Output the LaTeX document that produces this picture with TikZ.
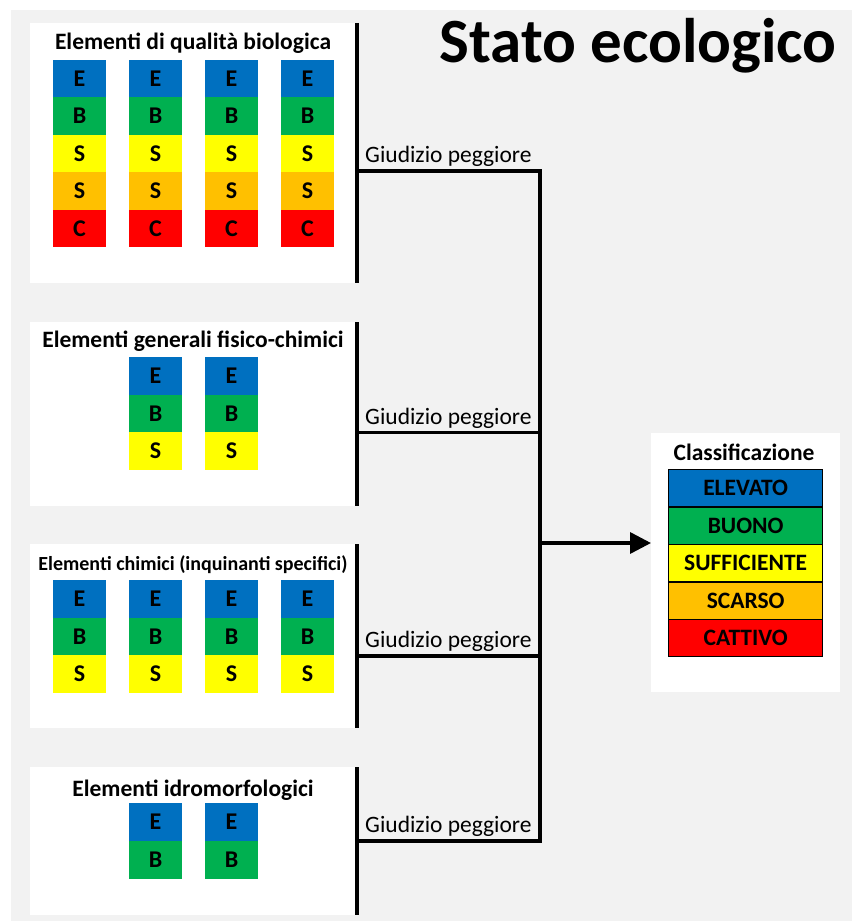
\documentclass[tikz,border=0pt]{standalone}
\usepackage{fontspec}
\setmainfont{Carlito}
\usetikzlibrary{arrows.meta}
\definecolor{qE}{HTML}{0070C0}
\definecolor{qB}{HTML}{00B050}
\definecolor{qS}{HTML}{FFFF00}
\definecolor{qO}{HTML}{FFC000}
\definecolor{qC}{HTML}{FF0000}
\definecolor{bgray}{HTML}{F2F2F2}
\begin{document}
\begin{tikzpicture}[x=1pt,y=-1pt,
  cell/.style={anchor=north west, minimum width=53pt, minimum height=37.6pt, inner sep=0pt, outer sep=0pt, font=\bfseries\fontsize{24}{24}\selectfont},
  panel/.style={fill=white, anchor=north west, inner sep=0pt, outer sep=0pt},
  bar/.style={line width=3.5pt},
  ptitle/.style={font=\bfseries\fontsize{23.5}{23.5}\selectfont, anchor=base, inner sep=0pt},
  judge/.style={font=\fontsize{23.5}{23.5}\selectfont, anchor=base west, inner sep=0pt},
  clbox/.style={anchor=north west, minimum width=154pt, minimum height=37.4pt, inner sep=0pt, draw=black, line width=1.3pt, font=\bfseries\fontsize{23.5}{23.5}\selectfont},
]
\useasboundingbox (0,0) rectangle (852,923);
\fill[bgray] (11,10) rectangle (852,921);

% title
\node[font=\bfseries\fontsize{63}{63}\selectfont, anchor=base, inner sep=0pt] (title) at (638,63) {Stato ecologico};

% panels
\node[panel, minimum width=327pt, minimum height=260pt] (p1) at (30,23) {};
\node[panel, minimum width=327pt, minimum height=184pt] (p2) at (30,322) {};
\node[panel, minimum width=327pt, minimum height=184pt] (p3) at (30,544) {};
\node[panel, minimum width=327pt, minimum height=148pt] (p4) at (30,767) {};
\foreach \p in {p1,p2,p3,p4} \draw[bar] (\p.north east) -- (\p.south east);

\node[ptitle] (t1) at (193,50) {Elementi di qualità biologica};
\node[ptitle] (t2) at (193,347) {Elementi generali fisico-chimici};
\node[ptitle, font=\bfseries\fontsize{20}{20}\selectfont] (t3) at (193,570) {Elementi chimici (inquinanti specifici)};
\node[ptitle] (t4) at (193,796) {Elementi idromorfologici};

% panel 1 cells
\foreach \c [count=\i] in {53,129,205,281} {
  \foreach \col/\t [count=\j from 0] in {qE/E,qB/B,qS/S,qO/S,qC/C} {
    \node[cell, fill=\col] (a\i\j) at (\c,{60+\j*37.4}) {\t};
  }
}
% panel 2 cells
\foreach \c [count=\i] in {129,205} {
  \foreach \col/\t [count=\j from 0] in {qE/E,qB/B,qS/S} {
    \node[cell, fill=\col] (b\i\j) at (\c,{357+\j*37.7}) {\t};
  }
}
% panel 3 cells
\foreach \c [count=\i] in {53,129,205,281} {
  \foreach \col/\t [count=\j from 0] in {qE/E,qB/B,qS/S} {
    \node[cell, fill=\col] (d\i\j) at (\c,{580+\j*37.7}) {\t};
  }
}
% panel 4 cells
\foreach \c [count=\i] in {129,205} {
  \foreach \col/\t [count=\j from 0] in {qE/E,qB/B} {
    \node[cell, fill=\col] (e\i\j) at (\c,{803+\j*38}) {\t};
  }
}

% classification
\node[panel, minimum width=189pt, minimum height=259pt] (cls) at (651,433) {};
\node[ptitle] (clt) at (744,460) {Classificazione};
\foreach \col/\t [count=\j from 0] in {qE/ELEVATO,qB/BUONO,qS/SUFFICIENTE,qO/SCARSO,qC/CATTIVO} {
  \node[clbox, fill=\col] (k\j) at (668,{469+\j*37.4}) {\t};
}

% connectors
\coordinate (j1) at (540,171);
\coordinate (j2) at (540,432.5);
\coordinate (j3) at (540,656);
\coordinate (j4) at (540,841);
\coordinate (jm) at (540,543);
\draw[bar] (p1.east |- j1) -- (j1) -- (j4) -- (p4.east |- j4);
\draw[bar] (p2.east |- j2) -- (j2);
\draw[bar] (p3.east |- j3) -- (j3);
\draw[bar, -{Triangle[length=21pt,width=21pt]}] (jm) -- (cls.west |- jm);

\node[judge] (g1) at (365,162.5) {Giudizio peggiore};
\node[judge] (g2) at (365,424) {Giudizio peggiore};
\node[judge] (g3) at (365,647.5) {Giudizio peggiore};
\node[judge] (g4) at (365,832.5) {Giudizio peggiore};
\end{tikzpicture}
\end{document}
